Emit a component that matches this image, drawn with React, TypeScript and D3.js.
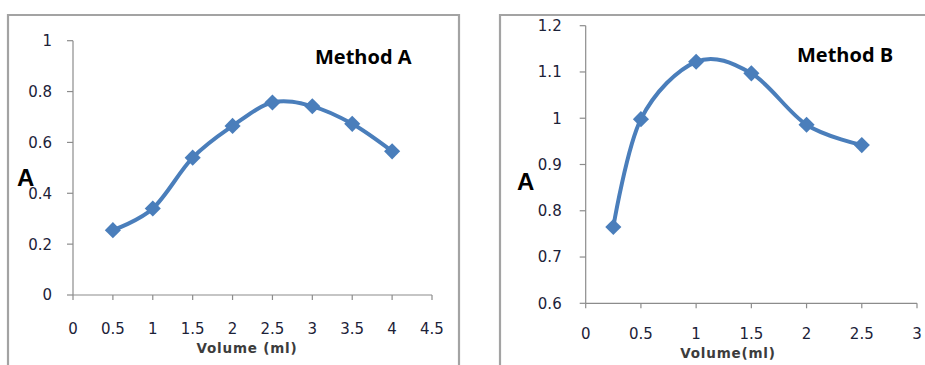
import React from "react";
import * as d3 from "d3";

const volumesA = [0.5, 1, 1.5, 2, 2.5, 3, 3.5, 4];
const absorbA = [0.255, 0.34, 0.54, 0.665, 0.757, 0.742, 0.673, 0.565];
const xTicksA = [0, 0.5, 1, 1.5, 2, 2.5, 3, 3.5, 4, 4.5];
const yTicksA = [0, 0.2, 0.4, 0.6, 0.8, 1];

const volumesB = [0.25, 0.5, 1, 1.5, 2, 2.5];
const absorbB = [0.765, 0.998, 1.122, 1.097, 0.986, 0.942];
const xTicksB = [0, 0.5, 1, 1.5, 2, 2.5, 3];
const yTicksB = [0.6, 0.7, 0.8, 0.9, 1, 1.1, 1.2];

const LINE = "#4a7ebb";
const AXIS = "#8c8c8c";
const TEXT = "#1c2238";

type PanelProps = {
  frame: { x0: number; y0: number; x1: number };
  xDomain: [number, number];
  yDomain: [number, number];
  xRange: [number, number];
  yRange: [number, number];
  xs: number[];
  ys: number[];
  xTicks: number[];
  yTicks: number[];
  xTickY: number;
  yLabelGap: number;
  xTitle: string;
  xTitlePos: [number, number];
  title: string;
  titlePos: [number, number];
  aPos: [number, number];
};

function Panel(p: PanelProps) {
  const x = d3.scaleLinear().domain(p.xDomain).range(p.xRange);
  const y = d3.scaleLinear().domain(p.yDomain).range(p.yRange);
  const pts: [number, number][] = p.xs.map((v, i) => [x(v), y(p.ys[i])]);
  const line = d3.line().curve(d3.curveCardinal.tension(0))(pts) || "";
  const sym = d3.symbol().type(d3.symbolSquare).size(130)() || "";
  const x0 = p.xRange[0];
  const yb = p.yRange[0];
  return (
    <g>
      <path
        d={`M${p.frame.x0},370 V${p.frame.y0} H${p.frame.x1} V370`}
        fill="none"
        stroke="#a3a3a3"
        strokeWidth={2.2}
      />
      <line x1={x0} x2={x0} y1={p.yRange[1]} y2={yb} stroke={AXIS} strokeWidth={1.2} />
      <line x1={x0} x2={p.xRange[1]} y1={yb} y2={yb} stroke={AXIS} strokeWidth={1.2} />
      {p.yTicks.map((t) => (
        <g key={"y" + t}>
          <line x1={x0 - 6} x2={x0} y1={y(t)} y2={y(t)} stroke={AXIS} strokeWidth={1.2} />
          <text
            x={x0 - p.yLabelGap}
            y={y(t)}
            dy="0.36em"
            textAnchor="end"
            fontFamily="DejaVu Sans"
            fontSize={15}
            fill={TEXT}
          >
            {String(t)}
          </text>
        </g>
      ))}
      {p.xTicks.map((t) => (
        <g key={"x" + t}>
          <line x1={x(t)} x2={x(t)} y1={yb} y2={yb + 5} stroke={AXIS} strokeWidth={1.2} />
          <text
            x={x(t)}
            y={p.xTickY}
            dy="0.36em"
            textAnchor="middle"
            fontFamily="DejaVu Sans"
            fontSize={15}
            fill={TEXT}
          >
            {String(t)}
          </text>
        </g>
      ))}
      <path d={line} fill="none" stroke={LINE} strokeWidth={4} strokeLinejoin="round" />
      {pts.map((pt, i) => (
        <path key={i} d={sym} transform={`translate(${pt[0]},${pt[1]}) rotate(45)`} fill={LINE} />
      ))}
      <text
        x={p.xTitlePos[0]}
        y={p.xTitlePos[1]}
        textAnchor="middle"
        fontFamily="DejaVu Sans"
        fontWeight="bold"
        fontSize={13.5}
        letterSpacing={0.8}
        fill="#3c3c3c"
      >
        {p.xTitle}
      </text>
      <text
        x={p.titlePos[0]}
        y={p.titlePos[1]}
        fontFamily="Open Sans"
        fontWeight="bold"
        fontSize={20}
        fill="#000"
      >
        {p.title}
      </text>
      <text
        x={p.aPos[0]}
        y={p.aPos[1]}
        fontFamily="Liberation Sans"
        fontWeight="bold"
        fontSize={24}
        fill="#000"
      >
        A
      </text>
    </g>
  );
}

export default function App() {
  return (
    <svg
      width={925}
      height={365}
      style={{ position: "absolute", left: 0, top: 0, display: "block", background: "#fff" }}
    >
      <rect width={925} height={365} fill="#fff" />
      <Panel
        frame={{ x0: 8, y0: 15, x1: 459 }}
        xDomain={[0, 4.5]}
        yDomain={[0, 1]}
        xRange={[73, 432]}
        yRange={[295, 40.7]}
        xs={volumesA}
        ys={absorbA}
        xTicks={xTicksA}
        yTicks={yTicksA}
        xTickY={329}
        yLabelGap={21}
        xTitle="Volume (ml)"
        xTitlePos={[247, 353]}
        title="Method A"
        titlePos={[315, 64]}
        aPos={[17, 186]}
      />
      <Panel
        frame={{ x0: 500, y0: 15, x1: 940 }}
        xDomain={[0, 3]}
        yDomain={[0.6, 1.2]}
        xRange={[585.7, 917]}
        yRange={[303.3, 25.7]}
        xs={volumesB}
        ys={absorbB}
        xTicks={xTicksB}
        yTicks={yTicksB}
        xTickY={334}
        yLabelGap={24}
        xTitle="Volume(ml)"
        xTitlePos={[728, 358]}
        title="Method B"
        titlePos={[797, 62]}
        aPos={[517, 190]}
      />
    </svg>
  );
}
